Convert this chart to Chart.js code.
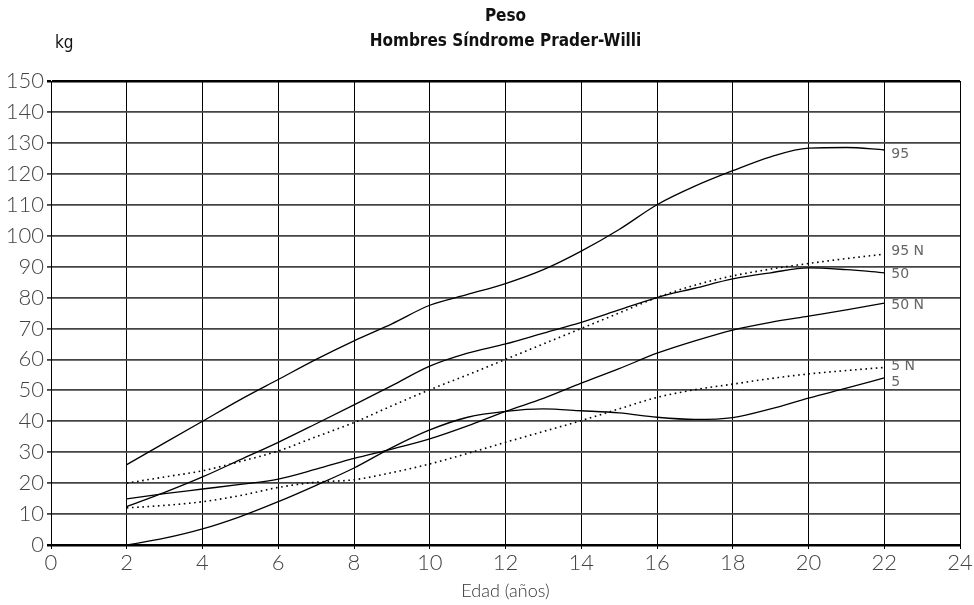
<!DOCTYPE html>
<html>
<head>
<meta charset="utf-8">
<script src="https://cdn.jsdelivr.net/npm/chart.js@4.4.1/dist/chart.umd.min.js"></script>
<style>
  html, body { margin: 0; padding: 0; background: #fff; }
  #wrap { width: 974px; height: 605px; }
</style>
</head>
<body>
<div id="wrap"><canvas id="c" width="974" height="605"></canvas></div>
<script>
// edad en años
const ages = [2, 3, 4, 5, 6, 7, 8, 9, 10, 11, 12, 13, 14, 15, 16, 17, 18, 19, 20, 21, 22];

// percentiles Prader-Willi (solid) y normales (N, dotted)
const p95 = [26, 33, 40, 47, 53.5, 60, 66, 71.5, 77.5, 81, 84.5, 89, 95, 102, 110, 116, 121, 125.5, 128.3, 128.5, 127.7];
const p95N = [20, 22, 24, 27, 30.4, 35, 39.6, 45, 50.2, 55, 60, 65, 70, 75, 80, 84, 87, 89.2, 91, 92.6, 94];
const p50 = [12.4, 17, 22, 27.6, 33.2, 39.2, 45.3, 51.5, 57.8, 62, 65, 68.5, 72, 76, 80, 83, 86, 88, 89.6, 89, 88];
const p50N = [14.9, 16.6, 18.1, 19.6, 21.3, 24.5, 28, 31, 34.3, 38.5, 43.2, 47.4, 52.3, 57, 62, 66, 69.5, 72, 74, 76, 78.2];
const p5N = [12, 12.8, 14, 16, 18.6, 20.3, 21.1, 23.4, 26.2, 29.6, 33.2, 36.7, 40.2, 44, 47.7, 50.2, 52, 53.8, 55.3, 56.4, 57.4];
const p5 = [0, 2.2, 5.2, 9.2, 14, 19.3, 24.9, 31.5, 37.2, 41.3, 43.2, 44, 43.4, 42.7, 41.3, 40.6, 41.2, 44, 47.5, 50.7, 54];

const xTicks = [0, 24, 2];   // min, max, step
const yTicks = [0, 150, 10];

const series = [
  { label: '95', data: p95, dotted: false },
  { label: '95 N', data: p95N, dotted: true },
  { label: '50', data: p50, dotted: false },
  { label: '50 N', data: p50N, dotted: false },
  { label: '5 N', data: p5N, dotted: true },
  { label: '5', data: p5, dotted: false },
];

const thinFont = 'Lato, "DejaVu Sans", sans-serif';
const narrowFont = '"Liberation Sans Narrow", "DejaVu Sans Condensed", sans-serif';

const extraText = {
  id: 'extraText',
  afterDatasetsDraw(chart) {
    const ctx = chart.ctx;
    const xs = chart.scales.x, ys = chart.scales.y;
    // end-of-line labels
    const dy = { '95': 4, '95 N': -3, '50': 2, '50 N': 2, '5 N': -1, '5': 4 };
    ctx.save();
    ctx.fillStyle = '#666';
    ctx.font = '14px "DejaVu Sans", sans-serif';
    ctx.textAlign = 'left';
    ctx.textBaseline = 'middle';
    chart.data.datasets.forEach(ds => {
      const last = ds.data[ds.data.length - 1];
      ctx.fillText(ds.label, xs.getPixelForValue(last.x) + 7, ys.getPixelForValue(last.y) + (dy[ds.label] || 0));
    });
    ctx.restore();
  },
  afterDraw(chart) {
    const ctx = chart.ctx;
    const mid = (chart.chartArea.left + chart.chartArea.right) / 2;
    ctx.save();
    ctx.fillStyle = '#111';
    ctx.textAlign = 'center';
    ctx.textBaseline = 'alphabetic';
    ctx.font = 'bold 17px ' + narrowFont;
    ctx.fillText('Peso', mid, 21);
    ctx.fillText('Hombres Síndrome Prader-Willi', mid, 46);
    ctx.textAlign = 'left';
    ctx.font = '17px ' + narrowFont;
    ctx.fillText('kg', 55, 48);
    ctx.restore();
  }
};

const gridStrong = v => v === 0 || v === 150;

new Chart(document.getElementById('c'), {
  type: 'line',
  data: {
    datasets: series.map(s => ({
      label: s.label,
      data: ages.map((a, i) => ({ x: a, y: s.data[i] })),
      borderColor: '#000',
      borderWidth: s.dotted ? 1.6 : 1.3,
      borderDash: s.dotted ? [1.6, 3.6] : [],
      pointRadius: 0,
      tension: 0.4,
      cubicInterpolationMode: 'monotone',
      fill: false,
    }))
  },
  options: {
    responsive: false,
    animation: false,
    layout: { padding: { top: 81, right: 14, left: 0, bottom: 0 } },
    plugins: {
      legend: { display: false },
      tooltip: { enabled: false },
      title: { display: false },
    },
    scales: {
      x: {
        type: 'linear',
        min: xTicks[0],
        max: xTicks[1],
        afterFit(scale) { scale.height = 60; },
        ticks: {
          stepSize: xTicks[2],
          color: '#444',
          padding: 1,
          maxRotation: 0,
          font: { family: thinFont, size: 22, weight: '300' },
        },
        grid: { color: '#000', lineWidth: 1, tickLength: 4 },
        border: { color: '#000', width: 2 },
        title: {
          display: true,
          text: 'Edad (años)',
          color: '#333',
          font: { family: thinFont, size: 18, weight: '300' },
          padding: { top: 0, bottom: 3 },
        },
      },
      y: {
        min: yTicks[0],
        max: yTicks[1],
        afterFit(scale) { scale.width = 51; },
        ticks: {
          stepSize: yTicks[2],
          color: '#444',
          padding: 3,
          font: { family: thinFont, size: 22, weight: '300' },
        },
        grid: {
          color: ctx => gridStrong(ctx.tick.value) ? '#000' : '#444',
          lineWidth: ctx => gridStrong(ctx.tick.value) ? 2.5 : 1.8,
          tickLength: 4,
        },
        border: { color: '#000', width: 1 },
      },
    },
  },
  plugins: [extraText],
});
</script>
</body>
</html>
